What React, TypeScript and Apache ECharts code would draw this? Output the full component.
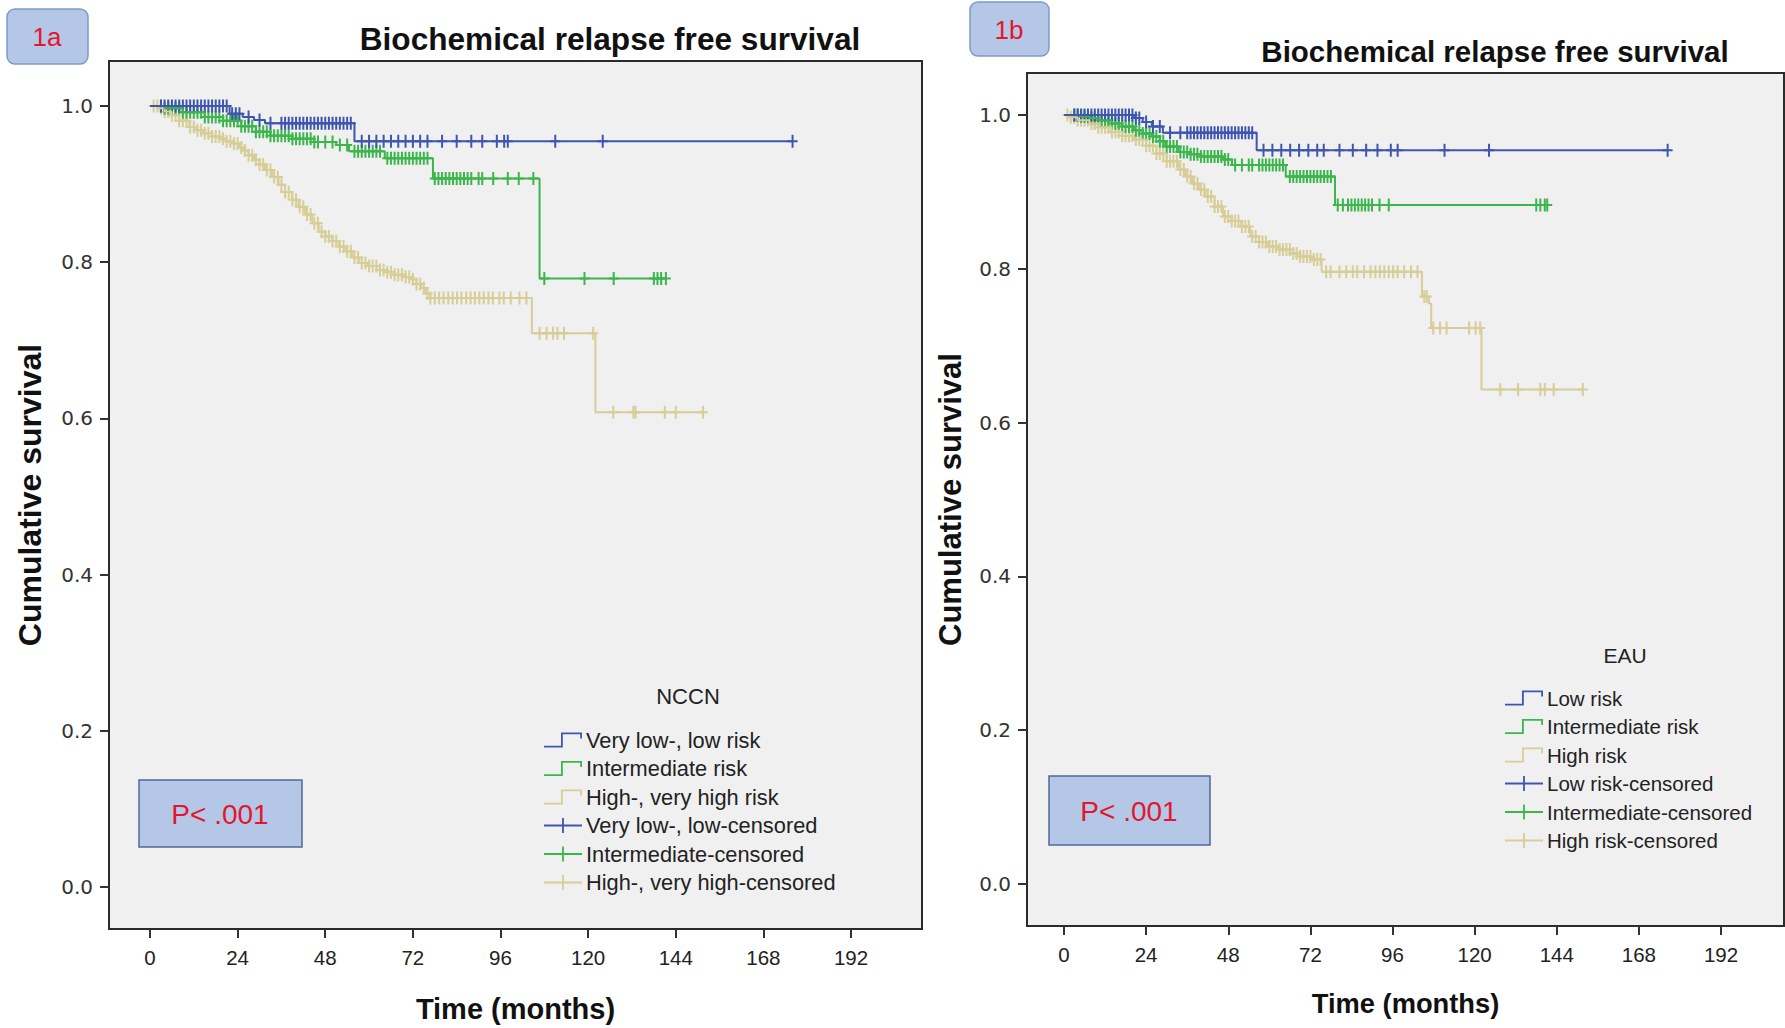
import React, { useEffect, useRef } from "react";
import * as echarts from "echarts";

// ---------- Panel 1a (NCCN) : step points [month, survival] ----------
const nccnLow: [number, number][] = [[0, 1], [21.8, 0.99], [25.4, 0.986], [28.5, 0.982], [31.5, 0.978], [56, 0.955], [176, 0.955]];
const nccnInt: [number, number][] = [[0, 1], [4, 0.997], [9, 0.992], [15, 0.986], [20, 0.981], [25, 0.974], [29, 0.967], [33, 0.962], [39, 0.958], [45, 0.954], [51, 0.95], [54.5, 0.942], [64.3, 0.933], [77.5, 0.907], [106.7, 0.779], [141.3, 0.779]];
const nccnHigh: [number, number][] = [[0, 1], [2.2, 0.997], [4, 0.993], [5.9, 0.988], [8, 0.981], [10.8, 0.973], [12.5, 0.969], [14.4, 0.965], [17, 0.961], [19.3, 0.958], [21, 0.955], [23, 0.952], [24.5, 0.947], [25.4, 0.943], [27, 0.937], [28.5, 0.931], [30, 0.925], [31.5, 0.918], [33.4, 0.909], [35.2, 0.899], [37, 0.89], [38.9, 0.88], [40.7, 0.871], [42.5, 0.861], [44.4, 0.85], [46.2, 0.839], [48, 0.833], [49.9, 0.827], [51.7, 0.82], [53.5, 0.814], [55.4, 0.806], [57.2, 0.799], [59.6, 0.795], [62.1, 0.79], [64.5, 0.787], [67, 0.784], [69.5, 0.781], [71.9, 0.778], [73, 0.772], [74.3, 0.767], [75.5, 0.76], [76.8, 0.754], [104.6, 0.709], [122, 0.608], [151.5, 0.608]];

// censored times (months)
const nccnLowCens = [3, 4, 5, 6, 7, 8, 9, 10, 11, 12, 13, 14, 15, 16, 17, 18, 19, 20, 21, 22.5, 23.5, 24.5, 27, 30, 33, 36, 37, 38, 39, 40, 41, 42, 43, 44, 45, 46, 47, 48, 49, 50, 51, 52, 53, 54, 55, 58, 60, 62, 64, 66, 68, 70, 72, 74, 76, 80, 84, 88, 91, 95, 97, 98, 111, 124, 176];
const nccnIntCens = [3, 4, 5, 6, 7, 8, 9, 10, 11, 12, 13, 14, 15, 16, 17, 18, 19, 20, 21, 22, 23, 24, 25, 26, 27, 28, 29, 30, 31, 32, 33, 34, 35, 36, 37, 38, 39, 40, 41, 42, 43, 44, 45, 46, 48, 50, 52, 54, 56, 57, 58, 59, 60, 61, 62, 63, 65, 66, 67, 68, 69, 70, 71, 72, 73, 74, 75, 76, 78, 79, 80, 81, 82, 83, 84, 85, 86, 87, 88, 90, 91, 94, 98, 101, 105, 108, 119, 127, 138, 139, 140, 141.3];
const nccnHighCens = [1, 2, 3, 4, 5, 6, 7, 8, 9, 10, 11, 12, 13, 14, 15, 16, 17, 18, 19, 20, 21, 22, 23, 24, 25, 26, 27, 28, 29, 30, 31, 32, 33, 34, 35, 36, 37, 38, 39, 40, 41, 42, 43, 44, 45, 46, 47, 48, 49, 50, 51, 52, 53, 54, 55, 56, 57, 58, 59, 60, 61, 62, 63, 64, 65, 66, 67, 68, 69, 70, 71, 72, 73, 74, 75, 76, 76.8, 78, 79.2, 80.4, 81.7, 82.9, 84.1, 85.3, 86.6, 87.8, 89, 90.2, 91.4, 92.7, 93.9, 95.7, 96.9, 98.8, 101.2, 103.1, 106.7, 108.6, 110.4, 111.6, 113.4, 121.4, 126.9, 132.4, 133, 141, 144, 151.5];

// ---------- Panel 1b (EAU) ----------
const eauLow: [number, number][] = [[0, 1], [20.4, 0.996], [23, 0.991], [25.7, 0.985], [28.9, 0.977], [56.3, 0.954], [176.4, 0.954]];
const eauInt: [number, number][] = [[0, 1], [5, 0.998], [7.4, 0.996], [10, 0.993], [13.9, 0.989], [17, 0.985], [20.4, 0.98], [23, 0.976], [25.7, 0.972], [28, 0.966], [29.6, 0.959], [33.5, 0.952], [37, 0.949], [40, 0.946], [46.5, 0.942], [49.1, 0.935], [64.8, 0.92], [79.2, 0.883], [141.2, 0.883]];
const eauHigh: [number, number][] = [[0, 1], [2, 0.997], [4, 0.993], [7.4, 0.989], [10, 0.984], [13.9, 0.978], [17, 0.973], [20.4, 0.968], [24, 0.96], [27, 0.95], [30, 0.94], [33.5, 0.929], [35.5, 0.92], [37.4, 0.911], [39.4, 0.903], [41.3, 0.894], [44, 0.881], [46.5, 0.868], [49, 0.862], [51.8, 0.855], [54.4, 0.842], [57, 0.835], [59.6, 0.829], [63, 0.825], [66.1, 0.82], [69, 0.816], [72.6, 0.812], [75.3, 0.796], [104.6, 0.764], [106.6, 0.755], [107.3, 0.723], [122, 0.643], [151.6, 0.643]];

const eauLowCens = [3, 4, 5, 6, 7, 8, 9, 10, 11, 12, 13, 14, 15, 16, 17, 18, 19, 20, 21, 22, 24, 26, 28, 31, 34, 36, 37, 38, 39, 40, 41, 42, 43, 44, 45, 46, 47, 48, 49, 50, 51, 52, 53, 54, 55, 58.3, 60.9, 63.5, 66.1, 68.7, 71.4, 74, 75.9, 80.5, 84.4, 88.3, 91.6, 95.5, 97.5, 111.2, 124.2, 176.4];
const eauIntCens = [3, 4, 5, 6, 7, 8, 9, 10, 11, 12, 13, 14, 15, 16, 17, 18, 19, 20, 21, 22, 23, 24, 25, 26, 27, 28, 29, 30, 31, 32, 33, 34, 35, 36, 37, 38, 39, 40, 41, 42, 43, 44, 45, 46, 47, 48, 50, 52, 54, 55, 57, 58, 59, 60, 61, 62, 63, 64, 66, 67, 68, 69, 70, 71, 72, 73, 74, 75, 76, 77, 78, 80, 81.5, 83, 84, 85, 86, 87, 88, 89, 90, 92.2, 94.9, 138, 139.2, 140.5, 141.2];
const eauHighCens = [1, 2, 3, 4, 5, 6, 7, 8, 9, 10, 11, 12, 13, 14, 15, 16, 17, 18, 19, 20, 21, 22, 23, 24, 25, 26, 27, 28, 29, 30, 31, 32, 33, 34, 35, 36, 37, 38, 39, 40, 41, 42, 43, 44, 45, 46, 47, 48, 49, 50, 51, 52, 53, 54, 55, 56, 57, 58, 59, 60, 61, 62, 63, 64, 65, 66, 67, 68, 69, 70, 71, 72, 73, 74, 75, 76.6, 77.9, 80.5, 82.5, 84.4, 85.7, 87.7, 89.6, 91, 92.3, 93.6, 94.9, 96.2, 97.5, 99.4, 101.4, 103.3, 105.3, 106, 107.9, 109.9, 111.8, 118.4, 120.3, 121.6, 127.5, 132.7, 139.2, 140.5, 143.1, 151.6];

// ---------- axis ticks & labels ----------
const X_TICKS = [0, 24, 48, 72, 96, 120, 144, 168, 192];
const Y_TICKS = [0, 0.2, 0.4, 0.6, 0.8, 1.0];

const NCCN_NAMES = ["Very low-, low risk", "Intermediate risk", "High-, very high risk", "Very low-, low-censored", "Intermediate-censored", "High-, very high-censored"];
const EAU_NAMES = ["Low risk", "Intermediate risk", "High risk", "Low risk-censored", "Intermediate-censored", "High risk-censored"];

const BLUE = "#3f56b0";
const GREEN = "#3cb64c";
const TAN = "#d6cd97";

const PLUS = "path://M0,5.5H10V7.5H0ZM4,0H6V13H4Z";
const STEP_ICON = "path://M0,13.2H17V0H38V6H36.2V1.8H18.8V15H0Z";
const PLUS_ICON = "path://M0,6.6H38V8.4H0ZM18.1,0H19.9V15H18.1Z";

function survAt(steps: [number, number][], t: number) {
  let s = steps[0][1];
  for (const [x, y] of steps) {
    if (x <= t + 1e-9) s = y;
    else break;
  }
  return s;
}
function cens(steps: [number, number][], times: number[]) {
  return times.map((t) => [t, survAt(steps, t)]);
}

export default function App() {
  const ref = useRef<HTMLDivElement>(null);
  useEffect(() => {
    document.body.style.margin = "0";
    const chart = echarts.init(ref.current!, null, { renderer: "svg" });
    const NF = "'Liberation Sans', Arial, sans-serif";
    const TF = "'DejaVu Sans', sans-serif";

    const panels = [
      {
        grid: { left: 109, top: 61, width: 813, height: 868 }, xr: [-11.23, 211.45], yr: [-0.0538, 1.0576],
        names: NCCN_NAMES, data: [nccnLow, nccnInt, nccnHigh], censT: [nccnLowCens, nccnIntCens, nccnHighCens],
        legend: { left: 544, top: 726 }, yNameGap: 63, xNameGap: 65, legendFont: 21.8, yNameFont: 32, xNameFont: 29,
      },
      {
        grid: { left: 1027, top: 73, width: 757, height: 853 }, xr: [-10.81, 210.4], yr: [-0.0546, 1.0546],
        names: EAU_NAMES, data: [eauLow, eauInt, eauHigh], censT: [eauLowCens, eauIntCens, eauHighCens],
        legend: { left: 1505, top: 684 }, yNameGap: 61, xNameGap: 64, legendFont: 20.5, yNameFont: 31, xNameFont: 27.3,
      },
    ];
    const colors = [BLUE, GREEN, TAN];

    const grid: any[] = [];
    const xAxis: any[] = [];
    const yAxis: any[] = [];
    const series: any[] = [];
    const legend: any[] = [];

    panels.forEach((p, i) => {
      grid.push({ ...p.grid, show: true, backgroundColor: "#f0f0f0", borderColor: "#2b2b2b", borderWidth: 2 });
      xAxis.push({
        type: "value", gridIndex: i, min: p.xr[0], max: p.xr[1],
        axisLine: { show: true, onZero: false, lineStyle: { color: "#2b2b2b", width: 2 } },
        splitLine: { show: false },
        axisTick: { show: true, length: 9, customValues: X_TICKS, lineStyle: { color: "#333", width: 2 } },
        axisLabel: { customValues: X_TICKS, margin: 18, fontSize: 20.5, fontFamily: NF, color: "#222" },
        name: "Time (months)", nameLocation: "middle", nameGap: p.xNameGap,
        nameTextStyle: { fontSize: p.xNameFont, fontWeight: "bold", fontFamily: NF, color: "#111" },
      });
      yAxis.push({
        type: "value", gridIndex: i, min: p.yr[0], max: p.yr[1],
        axisLine: { show: true, onZero: false, lineStyle: { color: "#2b2b2b", width: 2 } },
        splitLine: { show: false },
        axisTick: { show: true, length: 9, customValues: Y_TICKS, lineStyle: { color: "#333", width: 2 } },
        axisLabel: { customValues: Y_TICKS, margin: 16, fontSize: 20, fontFamily: TF, color: "#333", formatter: (v: number) => v.toFixed(1) },
        name: "Cumulative survival", nameLocation: "middle", nameGap: p.yNameGap,
        nameTextStyle: { fontSize: p.yNameFont, fontWeight: "bold", fontFamily: NF, color: "#111" },
      });
      // lines: tan, green, blue order for z
      [2, 1, 0].forEach((j) => {
        series.push({
          type: "line", name: p.names[j], xAxisIndex: i, yAxisIndex: i, step: "end",
          data: p.data[j], symbol: "none", showSymbol: false, silent: true,
          lineStyle: { color: colors[j], width: 2 }, itemStyle: { color: colors[j] },
        });
      });
      [2, 1, 0].forEach((j) => {
        series.push({
          type: "scatter", name: p.names[j + 3], xAxisIndex: i, yAxisIndex: i,
          data: cens(p.data[j], p.censT[j]), symbol: PLUS, symbolSize: [10, 13], silent: true,
          itemStyle: { color: colors[j], opacity: 1 },
        });
      });
      legend.push({
        show: true, orient: "vertical", left: p.legend.left, top: p.legend.top, padding: 0,
        itemWidth: 38, itemHeight: 15, itemGap: 0.5, selectedMode: false,
        itemStyle: { borderWidth: 0 },
        data: p.names.map((n, j) => ({ name: n, icon: j < 3 ? STEP_ICON : PLUS_ICON })),
        textStyle: { fontFamily: NF, fontSize: p.legendFont, color: "#222", lineHeight: 28, padding: [0, 0, 0, -1] },
      });
    });

    const txt = (x: number, y: number, text: string, fontSize: number, fontFamily: string, fill: string, fontWeight = "normal") => ({
      type: "text", x, y, silent: true,
      style: { text, fontSize, fontFamily, fill, fontWeight, align: "center", verticalAlign: "middle" },
    });
    const box = (x: number, y: number, w: number, h: number, r: number, stroke: string) => ({
      type: "rect", silent: true, shape: { x, y, width: w, height: h, r }, style: { fill: "#b4c7e7", stroke, lineWidth: 1.5 },
    });

    const graphic = [
      box(7, 9, 81, 55, 8, "#7f9ac4"),
      txt(47, 37, "1a", 26, NF, "#e3162b"),
      box(970, 2, 79, 54, 8, "#7f9ac4"),
      txt(1009, 30, "1b", 26, NF, "#e3162b"),
      txt(610, 39, "Biochemical relapse free survival", 31.6, NF, "#111", "bold"),
      txt(1495, 51, "Biochemical relapse free survival", 29.5, NF, "#111", "bold"),
      box(139, 780, 163, 67, 0, "#4d6a99"),
      txt(220, 814, "P< .001", 28, NF, "#e3162b"),
      box(1049, 776, 161, 69, 0, "#4d6a99"),
      txt(1129, 811, "P< .001", 28, NF, "#e3162b"),
      txt(688, 696, "NCCN", 22, NF, "#222"),
      txt(1625, 655, "EAU", 21, NF, "#222"),
    ];

    chart.setOption({ animation: false, backgroundColor: "#ffffff", grid, xAxis, yAxis, series, legend, graphic });
    return () => chart.dispose();
  }, []);
  return <div ref={ref} style={{ width: 1785, height: 1028 }} />;
}
